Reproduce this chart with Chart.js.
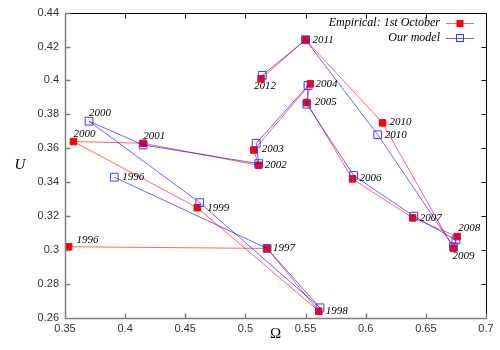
<!DOCTYPE html>
<html>
<head>
<meta charset="utf-8">
<script src="https://cdn.jsdelivr.net/npm/chart.js@4/dist/chart.umd.min.js"></script>
<style>
  body { margin: 0; background: #fff; }
  canvas { display: block; }
</style>
</head>
<body>
<canvas id="myChart" width="500" height="350"></canvas>
<script>
// data
var years = [1996, 1997, 1998, 1999, 2000, 2001, 2002, 2003, 2004,
             2005, 2006, 2007, 2008, 2009, 2010, 2011, 2012];
var omegaEmpirical = [0.353, 0.518, 0.561, 0.460, 0.357, 0.415, 0.511, 0.507, 0.554,
                      0.551, 0.589, 0.639, 0.676, 0.673, 0.614, 0.550, 0.513];
var uEmpirical = [0.302, 0.301, 0.264, 0.325, 0.364, 0.363, 0.350, 0.359, 0.398,
                  0.387, 0.342, 0.319, 0.308, 0.301, 0.375, 0.424, 0.401];
var omegaModel = [0.391, 0.518, 0.562, 0.462, 0.370, 0.415, 0.511, 0.509, 0.552,
                  0.551, 0.590, 0.640, 0.675, 0.673, 0.610, 0.550, 0.514];
var uModel = [0.343, 0.301, 0.266, 0.328, 0.376, 0.362, 0.351, 0.363, 0.397,
              0.386, 0.344, 0.320, 0.306, 0.302, 0.368, 0.424, 0.403];
var xTickValues = [0.35, 0.4, 0.45, 0.5, 0.55, 0.6, 0.65, 0.7];
var yTickValues = [0.26, 0.28, 0.3, 0.32, 0.34, 0.36, 0.38, 0.4, 0.42, 0.44];

var serif = '"Liberation Serif", "DejaVu Serif", serif';
var sans = '"Liberation Sans", Arial, sans-serif';

function toPoints(xs, ys) {
  return xs.map(function(x, i) { return { x: x, y: ys[i] }; });
}

// year labels: offset of the text (left edge, middle) from the marker
var empLabelOffsets = {
  1996: [8, -7], 1997: [6, 0], 1998: [7, 0], 1999: [10, 0], 2000: [0, -7],
  2001: [0, -7], 2002: [6, 0], 2003: [8, -1], 2004: [5, 0], 2005: [8, 0],
  2006: [7, -1], 2007: [7, 0], 2008: [1, -8], 2009: [-1, 8], 2010: [7, -1],
  2011: [7, 0], 2012: [-7, 7]
};
var modelLabelOffsets = { 1996: [8, 0], 2000: [0, -8], 2010: [7, 0] };

// frame with inward ticks on all four sides
var framePlugin = {
  id: 'frame',
  afterDraw: function(chart) {
    var ctx = chart.ctx;
    var a = chart.chartArea;
    var xs = chart.scales.x, ys = chart.scales.y;
    var L = Math.round(a.left) + 0.5, R = Math.round(a.right) + 0.5;
    var T = Math.round(a.top) + 0.5, B = Math.round(a.bottom) + 0.5;
    var len = 5;
    ctx.save();
    // top / right in black
    ctx.strokeStyle = '#000';
    ctx.lineWidth = 1;
    ctx.beginPath();
    ctx.moveTo(L, T); ctx.lineTo(R, T); ctx.lineTo(R, B);
    xs.ticks.forEach(function(t) {
      var px = Math.round(xs.getPixelForValue(t.value)) + 0.5;
      ctx.moveTo(px, T); ctx.lineTo(px, T + len);
    });
    ys.ticks.forEach(function(t) {
      var py = Math.round(ys.getPixelForValue(t.value)) + 0.5;
      ctx.moveTo(R, py); ctx.lineTo(R - len, py);
    });
    ctx.stroke();
    // left / bottom in grey
    ctx.strokeStyle = '#808080';
    ctx.lineWidth = 1.5;
    ctx.beginPath();
    ctx.moveTo(L, T); ctx.lineTo(L, B); ctx.lineTo(R, B);
    xs.ticks.forEach(function(t) {
      var px = Math.round(xs.getPixelForValue(t.value)) + 0.5;
      ctx.moveTo(px, B); ctx.lineTo(px, B - len);
    });
    ys.ticks.forEach(function(t) {
      var py = Math.round(ys.getPixelForValue(t.value)) + 0.5;
      ctx.moveTo(L, py); ctx.lineTo(L + len, py);
    });
    ctx.stroke();
    ctx.restore();
  }
};

// year labels, axis symbols and the legend
var textPlugin = {
  id: 'texts',
  afterDraw: function(chart) {
    var ctx = chart.ctx;
    var a = chart.chartArea;
    var xs = chart.scales.x, ys = chart.scales.y;
    ctx.save();
    ctx.fillStyle = '#000';
    ctx.textBaseline = 'middle';
    ctx.textAlign = 'left';
    ctx.font = 'italic 11px ' + serif;
    [[0, empLabelOffsets], [1, modelLabelOffsets]].forEach(function(pair) {
      var ds = chart.data.datasets[pair[0]];
      var offs = pair[1];
      ds.data.forEach(function(p, i) {
        var off = offs[years[i]];
        if (!off) return;
        var px = xs.getPixelForValue(p.x), py = ys.getPixelForValue(p.y);
        ctx.fillText(String(years[i]), px + off[0], py + off[1]);
      });
    });

    // axis symbols
    ctx.textAlign = 'center';
    ctx.font = 'italic 15px ' + serif;
    ctx.fillText('U', 20, (a.top + a.bottom) / 2);
    ctx.font = '15px ' + serif;
    ctx.fillText('\u03A9', (a.left + a.right) / 2, 334);

    // legend, text right aligned, sample line on the right
    ctx.font = 'italic 12px ' + serif;
    chart.data.datasets.forEach(function(ds, i) {
      var y = 23 + i * 14.5;
      ctx.textAlign = 'right';
      ctx.fillStyle = '#000';
      ctx.fillText(ds.label, 440, y);
      ctx.strokeStyle = ds.borderColor;
      ctx.lineWidth = 1;
      ctx.beginPath();
      ctx.moveTo(446, Math.round(y) + 0.5);
      ctx.lineTo(474, Math.round(y) + 0.5);
      ctx.stroke();
      if (i === 0) {
        ctx.fillStyle = ds.pointBackgroundColor;
        ctx.fillRect(456.5, Math.round(y) - 3, 7, 7);
      } else {
        ctx.strokeStyle = ds.pointBorderColor;
        ctx.strokeRect(456.5, Math.round(y) - 3.5, 7, 7);
      }
    });
    ctx.restore();
  }
};

var ctx = document.getElementById('myChart').getContext('2d');
var chart = new Chart(ctx, {
  type: 'scatter',
  data: {
    datasets: [{
        label: 'Empirical: 1st October',
        data: toPoints(omegaEmpirical, uEmpirical),
        showLine: true,
        borderColor: 'rgba(255,0,0,0.6)',
        borderWidth: 1,
        pointStyle: 'rect',
        pointRadius: 4.6,
        pointBorderWidth: 1,
        pointBackgroundColor: '#ff0000',
        pointBorderColor: '#ff0000',
        order: 1
      },
      {
        label: 'Our model',
        data: toPoints(omegaModel, uModel),
        showLine: true,
        borderColor: 'rgba(0,0,255,0.6)',
        borderWidth: 1,
        pointStyle: 'rect',
        pointRadius: 5.5,
        pointBorderWidth: 1,
        pointBackgroundColor: 'rgba(0,0,0,0)',
        pointBorderColor: '#3a3aff',
        order: 0
      }
    ]
  },
  options: {
    responsive: false,
    animation: false,
    devicePixelRatio: 1,
    layout: { padding: { top: 12, right: 14, left: 0, bottom: 0 } },
    plugins: {
      legend: { display: false },
      tooltip: { enabled: false }
    },
    scales: {
      x: {
        type: 'linear',
        min: 0.35,
        max: 0.7,
        afterBuildTicks: function(scale) {
          scale.ticks = xTickValues.map(function(v) { return { value: v }; });
        },
        afterFit: function(scale) { scale.height = 32; },
        grid: { display: false, drawTicks: false },
        border: { display: false },
        ticks: {
          padding: 4,
          color: '#333',
          font: { family: sans, size: 11 },
          maxRotation: 0,
          autoSkip: false,
          callback: function(v) { return String(parseFloat(v.toFixed(2))); }
        }
      },
      y: {
        type: 'linear',
        min: 0.26,
        max: 0.44,
        afterBuildTicks: function(scale) {
          scale.ticks = yTickValues.map(function(v) { return { value: v }; });
        },
        afterFit: function(scale) { scale.width = 65; },
        grid: { display: false, drawTicks: false },
        border: { display: false },
        ticks: {
          padding: 6,
          color: '#333',
          font: { family: sans, size: 11 },
          autoSkip: false,
          callback: function(v) { return String(parseFloat(v.toFixed(2))); }
        }
      }
    }
  },
  plugins: [framePlugin, textPlugin]
});
</script>
</body>
</html>
